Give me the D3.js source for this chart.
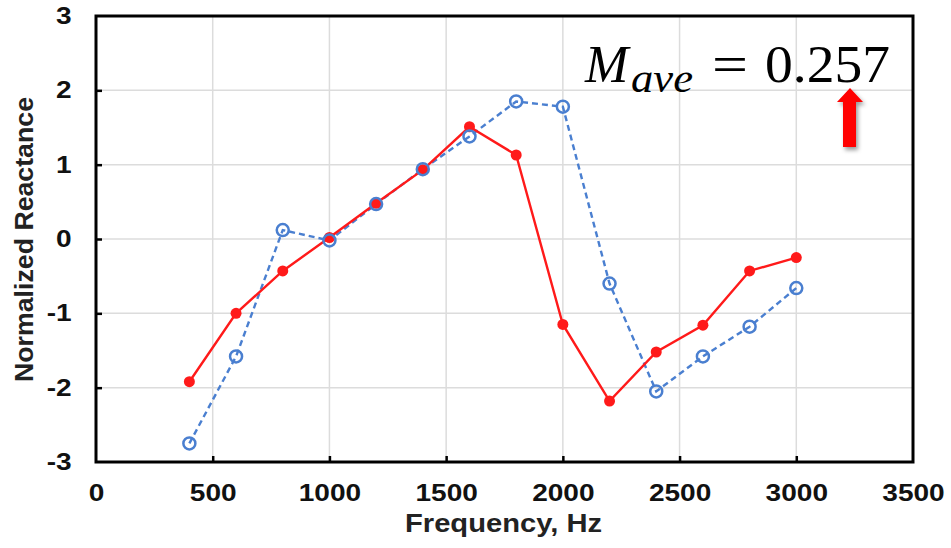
<!DOCTYPE html>
<html>
<head>
<meta charset="utf-8">
<title>Normalized Reactance</title>
<style>
  html, body { margin: 0; padding: 0; background: #fff; }
  svg { display: block; font-family: 'Liberation Sans', Arial, sans-serif; }
</style>
</head>
<body>
<svg id="chart" width="951" height="548"></svg>
<script src="https://cdnjs.cloudflare.com/ajax/libs/d3/7.8.5/d3.min.js"></script>
<script>
// data
var freqs = [400, 600, 800, 1000, 1200, 1400, 1600, 1800, 2000, 2200, 2400, 2600, 2800, 3000];
var redSeries = [-1.92, -1.0, -0.43, 0.02, 0.48, 0.93, 1.51, 1.13, -1.15, -2.18, -1.52, -1.16, -0.43, -0.25];
var blueSeries = [-2.75, -1.58, 0.12, -0.02, 0.47, 0.94, 1.38, 1.85, 1.78, -0.60, -2.05, -1.58, -1.18, -0.66];
var xTicks = [0, 500, 1000, 1500, 2000, 2500, 3000, 3500];
var yTicks = [-3, -2, -1, 0, 1, 2, 3];
var mAve = '0.257';

var svg = d3.select('#chart');
var m = { left: 96, right: 913, top: 16, bottom: 462 };

var x = d3.scaleLinear().domain([0, 3500]).range([m.left, m.right]);
var y = d3.scaleLinear().domain([-3, 3]).range([m.bottom, m.top]);

// grid
svg.append('g').selectAll('line')
  .data(xTicks.slice(1, -1))
  .join('line')
    .attr('x1', function(d) { return x(d); }).attr('x2', function(d) { return x(d); })
    .attr('y1', m.top).attr('y2', m.bottom)
    .attr('stroke', '#dcdcdc').attr('stroke-width', 1.5);
svg.append('g').selectAll('line')
  .data(yTicks.slice(1, -1))
  .join('line')
    .attr('x1', m.left).attr('x2', m.right)
    .attr('y1', function(d) { return y(d); }).attr('y2', function(d) { return y(d); })
    .attr('stroke', '#dcdcdc').attr('stroke-width', 1.5);

// axes (plain hyphen for negatives, like the original)
var fmt = function(d) { return String(d); };
var xAxis = svg.append('g')
  .attr('transform', 'translate(0,' + m.bottom + ')')
  .call(d3.axisBottom(x).tickValues(xTicks).tickFormat(fmt)
    .tickSizeInner(-6).tickSizeOuter(0).tickPadding(23));
var yAxis = svg.append('g')
  .attr('transform', 'translate(' + m.left + ',0)')
  .call(d3.axisLeft(y).tickValues(yTicks).tickFormat(fmt)
    .tickSizeInner(-6).tickSizeOuter(0).tickPadding(20));

[xAxis, yAxis].forEach(function(a) {
  a.select('.domain').remove();
  a.selectAll('.tick line').attr('stroke', '#000').attr('stroke-width', 2.5);
  a.selectAll('.tick text')
    .attr('font-family', "'Liberation Sans', Arial, sans-serif")
    .attr('font-size', 23).attr('font-weight', 'bold').attr('fill', '#111')
    .attr('transform', 'scale(1.22,1)');
});
// no tick at the corners
xAxis.selectAll('.tick line').filter(function(d) { return d === 0 || d === 3500; }).remove();
yAxis.selectAll('.tick line').filter(function(d) { return d === -3 || d === 3; }).remove();

// frame
svg.append('rect')
  .attr('x', m.left).attr('y', m.top)
  .attr('width', m.right - m.left).attr('height', m.bottom - m.top)
  .attr('fill', 'none').attr('stroke', '#000').attr('stroke-width', 3);

// axis titles
svg.append('text')
  .attr('x', 405).attr('y', 532)
  .attr('font-size', 25).attr('font-weight', 'bold').attr('fill', '#222')
  .attr('textLength', 197).attr('lengthAdjust', 'spacingAndGlyphs')
  .text('Frequency, Hz');
svg.append('text')
  .attr('transform', 'translate(33,382) rotate(-90)')
  .attr('font-size', 25).attr('font-weight', 'bold').attr('fill', '#222')
  .attr('textLength', 285).attr('lengthAdjust', 'spacingAndGlyphs')
  .text('Normalized Reactance');

// series
var line = d3.line()
  .x(function(d) { return x(d[0]); })
  .y(function(d) { return y(d[1]); });

var blue = '#4a7fd0', red = '#ff1a1a';
var blueData = d3.zip(freqs, blueSeries);
var redData = d3.zip(freqs, redSeries);

svg.append('path').datum(blueData)
  .attr('d', line).attr('fill', 'none')
  .attr('stroke', blue).attr('stroke-width', 2.4).attr('stroke-dasharray', '6,4');
svg.append('path').datum(redData)
  .attr('d', line).attr('fill', 'none')
  .attr('stroke', red).attr('stroke-width', 2.4);

svg.append('g').selectAll('circle')
  .data(redData)
  .join('circle')
    .attr('cx', function(d) { return x(d[0]); })
    .attr('cy', function(d) { return y(d[1]); })
    .attr('r', 5.5).attr('fill', red);
svg.append('g').selectAll('circle')
  .data(blueData)
  .join('circle')
    .attr('cx', function(d) { return x(d[0]); })
    .attr('cy', function(d) { return y(d[1]); })
    .attr('r', 6).attr('fill', 'none')
    .attr('stroke', blue).attr('stroke-width', 2.5);

// annotation
var serif = "'Liberation Serif', 'DejaVu Serif', serif";
var ann = svg.append('g').attr('font-family', serif).attr('fill', '#000');
ann.append('text').attr('x', 585).attr('y', 82)
  .attr('font-style', 'italic').attr('font-size', 52).text('M');
ann.append('text').attr('x', 631).attr('y', 92)
  .attr('font-style', 'italic').attr('font-size', 42)
  .attr('textLength', 62).attr('lengthAdjust', 'spacingAndGlyphs').text('ave');
ann.append('text').attr('x', 712).attr('y', 82)
  .attr('font-size', 52).attr('textLength', 36).attr('lengthAdjust', 'spacingAndGlyphs').text('=');
ann.append('text').attr('x', 765).attr('y', 82)
  .attr('font-size', 52).attr('textLength', 125).attr('lengthAdjust', 'spacingAndGlyphs').text(mAve);

// red arrow with soft shadow
var defs = svg.append('defs');
var f = defs.append('filter').attr('id', 'shadow')
  .attr('x', '-50%').attr('y', '-50%').attr('width', '200%').attr('height', '200%');
f.append('feDropShadow').attr('dx', 2).attr('dy', 3).attr('stdDeviation', 2).attr('flood-opacity', 0.4);
svg.append('path')
  .attr('d', 'M850,88 L863,102 L856,102 L856,147 L843,147 L843,102 L837,102 Z')
  .attr('fill', '#ff0000')
  .attr('filter', 'url(#shadow)');
</script>
</body>
</html>
